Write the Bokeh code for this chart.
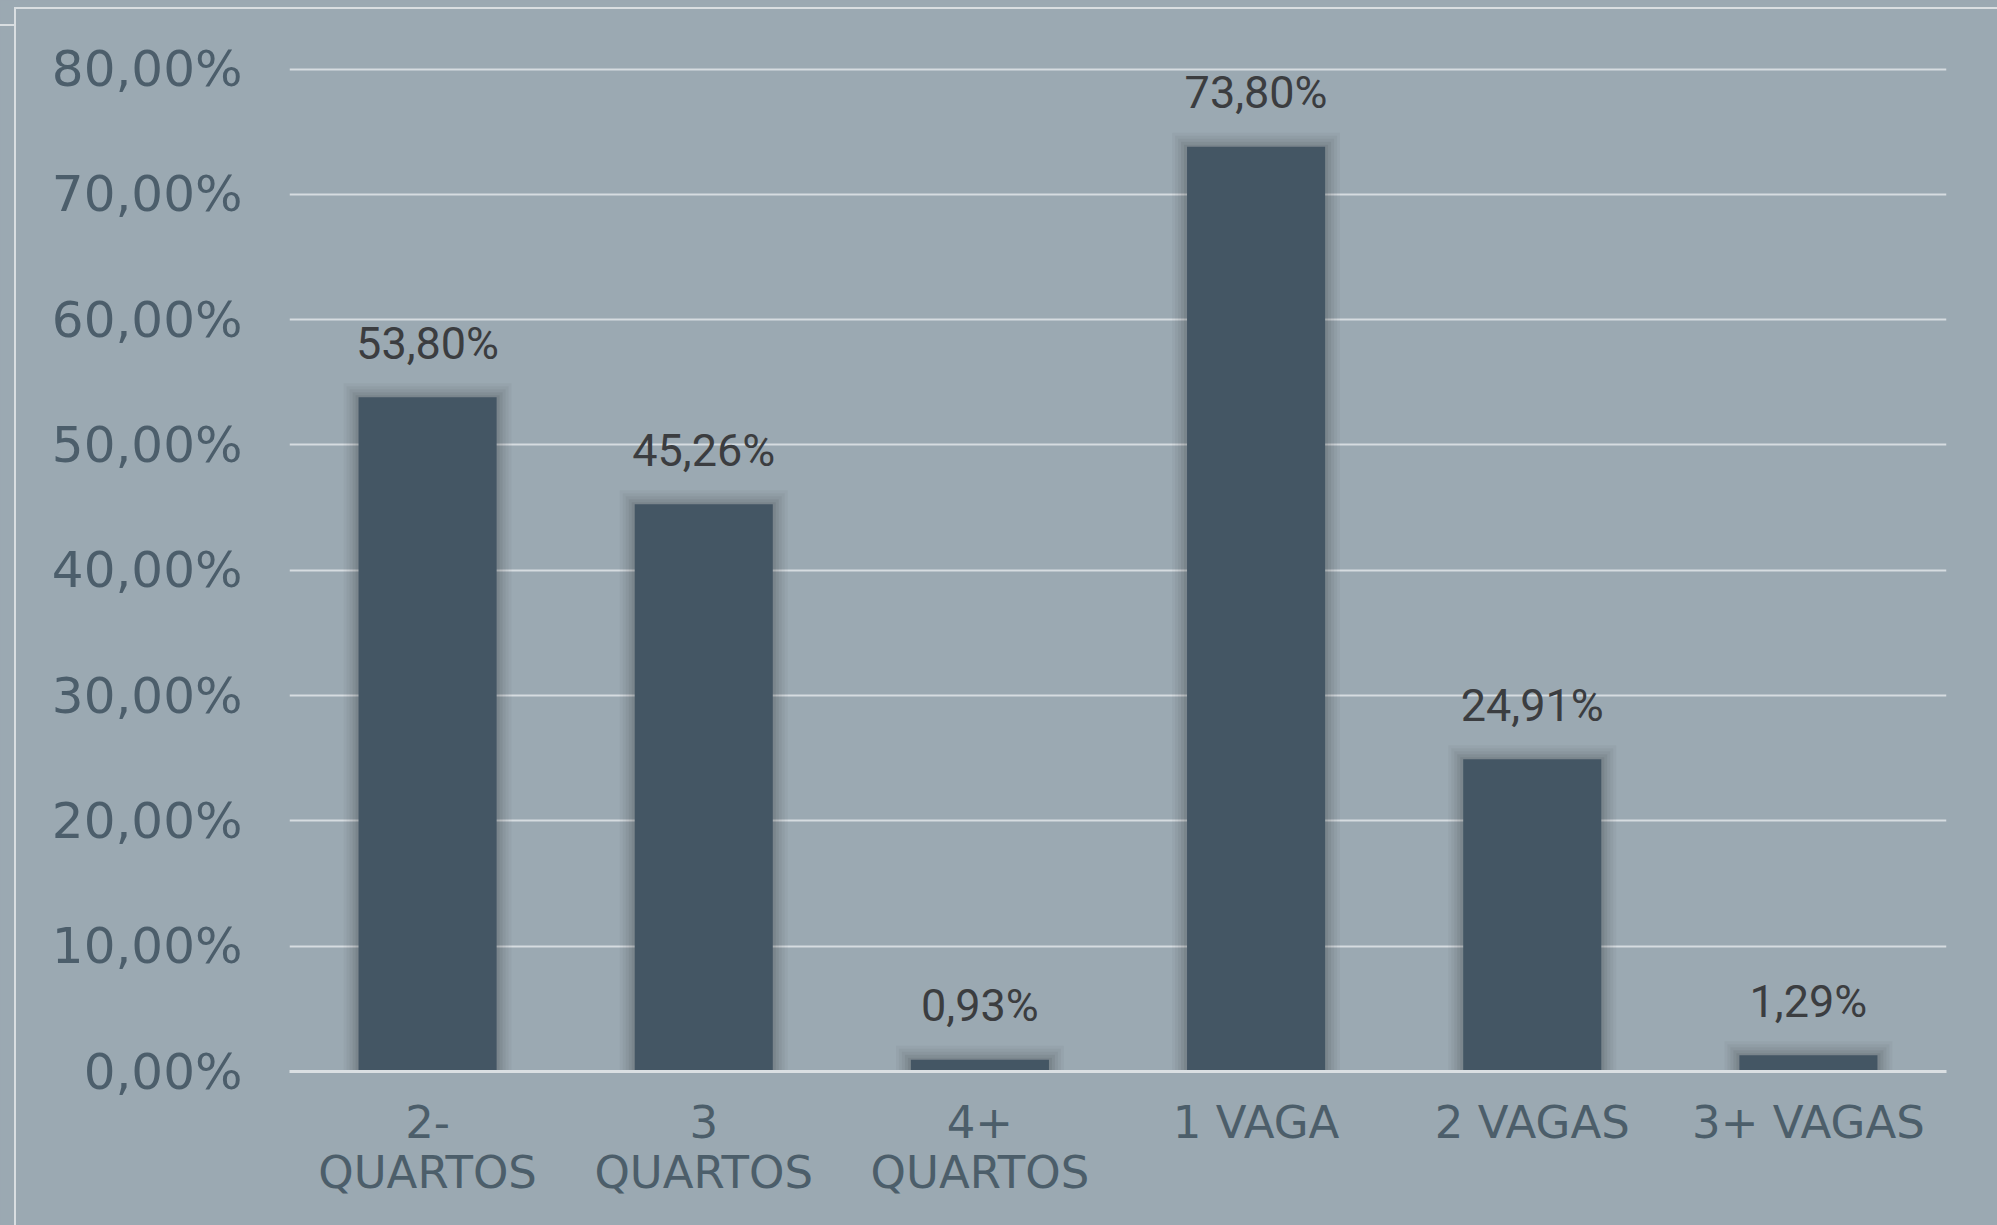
from bokeh.plotting import figure
from bokeh.models import ColumnDataSource, FactorRange, FixedTicker
from bokeh.core.properties import value
from bokeh.embed import file_html
from bokeh.resources import INLINE

# ---- data ----
categories = ["2-\nQUARTOS", "3\nQUARTOS", "4+\nQUARTOS", "1 VAGA", "2 VAGAS", "3+ VAGAS"]
percentages = [53.80, 45.26, 0.93, 73.80, 24.91, 1.29]
y_ticks = [0, 10, 20, 30, 40, 50, 60, 70, 80]
y_tick_labels = ["0,00%", "10,00%", "20,00%", "30,00%", "40,00%", "50,00%", "60,00%", "70,00%", "80,00%"]
value_labels = [f"{v:.2f}".replace(".", ",") + "%" for v in percentages]

BG = "#9BA9B2"
BAR = "#445664"
GRID = "#D6DCE0"
YLAB = "#4C5E6B"
XLAB = "#4C5E6A"
VLAB = "#3B3D40"
FRAME = "#D9DEE1"

W, H = 1997, 1225
p = figure(x_range=FactorRange(*categories, range_padding=0), y_range=(0, 80.2),
           width=W, height=H, output_backend="svg", toolbar_location=None,
           background_fill_color=BG, border_fill_color=BG,
           min_border_left=289, min_border_right=51, min_border_top=66, min_border_bottom=154)
p.outline_line_color = None

src = ColumnDataSource(dict(cat=categories, val=percentages, lab=value_labels))

# soft shadow around bars
px_x = 1.0 / 276.5
px_y = 80.0 / 1002.0
for ex, ey, a in [(30, 14, 0.03), (24, 11, 0.035), (18, 8, 0.04), (12, 5, 0.05), (6, 2, 0.06)]:
    sh = ColumnDataSource(dict(cat=categories, top=[v + ey * px_y for v in percentages]))
    p.vbar(x="cat", top="top", bottom=0, width=0.5 + ex * px_x, source=sh,
           fill_color="black", fill_alpha=a, line_color=None)

p.vbar(x="cat", top="val", bottom=0, width=0.5, source=src, fill_color=BAR, line_color=None)

p.text(x="cat", y="val", text="lab", source=src, y_offset=-54,
       text_align="center", text_baseline="alphabetic",
       text_font=value("Roboto"), text_font_size="45px", text_color=VLAB)

# grid
p.xgrid.grid_line_color = None
p.ygrid.ticker = FixedTicker(ticks=y_ticks)
p.ygrid.grid_line_color = GRID
p.ygrid.grid_line_width = 2

# axes
p.yaxis.ticker = FixedTicker(ticks=y_ticks)
p.yaxis.major_label_overrides = {t: l for t, l in zip(y_ticks, y_tick_labels)}
p.yaxis.axis_line_color = None
p.yaxis.major_tick_line_color = None
p.yaxis.minor_tick_line_color = None
p.yaxis.major_label_standoff = 41
p.yaxis.major_label_text_font = "DejaVu Sans"
p.yaxis.major_label_text_font_size = "50px"
p.yaxis.major_label_text_color = YLAB

p.xaxis.axis_line_color = "#DADFE2"
p.xaxis.axis_line_width = 3
p.xaxis.major_tick_line_color = None
p.xaxis.minor_tick_line_color = None
p.xaxis.major_label_standoff = 18
p.xaxis.major_label_text_font = "DejaVu Sans"
p.xaxis.major_label_text_font_size = "45px"
p.xaxis.major_label_text_color = XLAB
p.xaxis.major_label_text_line_height = 0.95

css = (
    "<style>html,body{background:%s;margin:0;overflow:hidden;}"
    "body::before{content:'';position:fixed;left:14px;top:7px;width:2px;height:100%%;background:%s;z-index:10;}"
    "body::after{content:'';position:fixed;left:14px;top:7px;right:0;height:2px;background:%s;z-index:10;}"
    "html::before{content:'';position:fixed;left:0;top:24px;width:14px;height:2px;background:%s;z-index:10;}"
    "</style>" % (BG, FRAME, FRAME, FRAME)
)
html = file_html(p, INLINE)
html = html.replace("<head>", "<head>" + css, 1)
open("out.html", "w").write(html)
